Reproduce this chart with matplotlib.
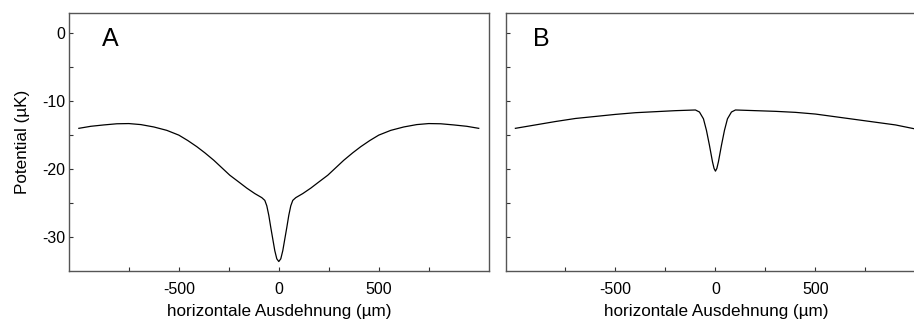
import matplotlib
matplotlib.use('Agg')
import matplotlib.pyplot as plt
from matplotlib.ticker import FixedLocator, NullFormatter

plt.rcParams['font.family'] = ['Liberation Sans', 'DejaVu Sans']
plt.rcParams['font.size'] = 11.5
plt.rcParams['axes.unicode_minus'] = False

# panel A: full trap potential along the horizontal axis
xa = [-1000, -940, -875, -810, -750, -690, -625, -560, -500, -455, -410, -370,
      -325, -285, -245, -200, -160, -120, -85, -70, -60, -50, -40, -30, -20,
      -10, 0, 10, 20, 30, 40, 50, 60, 70, 85, 120, 160, 200, 245, 285, 325,
      370, 410, 455, 500, 560, 625, 690, 750, 810, 875, 940, 1000]
ya = [-14.0, -13.7, -13.5, -13.33, -13.3, -13.45, -13.8, -14.3, -15.0, -15.8,
      -16.7, -17.6, -18.7, -19.8, -20.9, -21.9, -22.8, -23.6, -24.2, -24.6,
      -25.4, -26.8, -28.6, -30.3, -32.0, -33.2, -33.6, -33.2, -32.0, -30.3,
      -28.6, -26.8, -25.4, -24.6, -24.2, -23.6, -22.8, -21.9, -20.9, -19.8,
      -18.7, -17.6, -16.7, -15.8, -15.0, -14.3, -13.8, -13.45, -13.3, -13.33,
      -13.5, -13.7, -14.0]

# panel B
xb = [-1000, -900, -800, -700, -600, -500, -400, -300, -200, -100, -80, -60,
      -45, -30, -15, -7, 0, 7, 15, 30, 45, 60, 80, 100, 200, 300, 400, 500,
      600, 700, 800, 900, 1000]
yb = [-14.0, -13.5, -13.0, -12.55, -12.25, -11.95, -11.7, -11.55, -11.4, -11.3,
      -11.6, -12.6, -14.3, -16.5, -18.9, -19.9, -20.3, -19.9, -18.9, -16.5,
      -14.3, -12.6, -11.6, -11.3, -11.4, -11.5, -11.65, -11.9, -12.3, -12.7,
      -13.1, -13.5, -14.1]

xlabel = 'horizontale Ausdehnung (µm)'
ylabel = 'Potential (µK)'

fig = plt.figure(figsize=(9.14, 3.2), dpi=100)
ax1 = fig.add_axes([0.076, 0.153, 0.4587, 0.807])
ax2 = fig.add_axes([0.5536, 0.153, 0.459, 0.807])

for ax, xs, ys, tag, tx in [(ax1, xa, ya, 'A', 0.078), (ax2, xb, yb, 'B', 0.064)]:
    ax.plot(xs, ys, color='black', lw=0.9)
    ax.set_xlim(-1047, 1050)
    ax.set_ylim(-35, 3)
    ax.set_xticks([-500, 0, 500])
    ax.xaxis.set_minor_locator(FixedLocator([-750, -250, 250, 750]))
    ax.set_yticks([0, -10, -20, -30])
    ax.yaxis.set_minor_locator(FixedLocator([-5, -15, -25]))
    ax.tick_params(which='both', direction='in', length=3, width=0.8,
                   color='#333333', top=False, right=False)
    ax.tick_params(axis='x', which='major', pad=8)
    ax.tick_params(axis='y', which='major', pad=3)
    for s in ax.spines.values():
        s.set_color('#555555')
        s.set_linewidth(1.0)
    ax.set_xlabel(xlabel, fontsize=12.3, labelpad=5)
    ax.text(tx, 0.945, tag, transform=ax.transAxes, fontsize=18,
            va='top', ha='left')

ax1.set_ylabel(ylabel, fontsize=12.3, labelpad=9)
ax2.yaxis.set_major_formatter(NullFormatter())

fig.savefig('out.png', dpi=100)
